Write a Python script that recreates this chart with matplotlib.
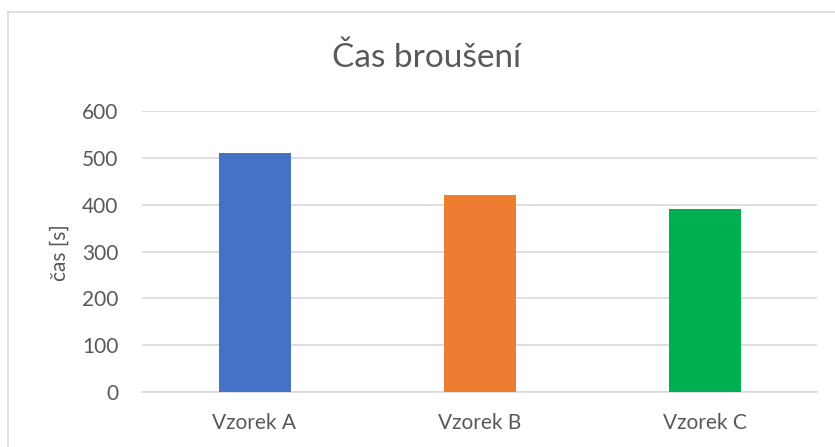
import matplotlib.pyplot as plt
from matplotlib.lines import Line2D

plt.rcParams['font.family'] = ['Lato', 'DejaVu Sans']

# grinding time per sample
samples = ["Vzorek A", "Vzorek B", "Vzorek C"]
times = [510, 420, 390]
bar_colors = ["#4472C4", "#ED7D31", "#00B050"]
yticks = [0, 100, 200, 300, 400, 500, 600]

TEXT = "#595959"
GRID = "#D9D9D9"

W, H = 835, 447
fig = plt.figure(figsize=(W / 100, H / 100), dpi=100)
ax = fig.add_axes([142 / W, 1 - 392 / H, 675 / W, 281 / H])

x = range(len(samples))
ax.bar(x, times, width=0.32, color=bar_colors, zorder=3)

ax.set_xlim(-0.5, len(samples) - 0.5)
ax.set_ylim(0, 600)
ax.set_yticks(yticks)
ax.set_xticks(list(x))
ax.set_xticklabels(samples)
ax.tick_params(axis="both", length=0, labelsize=15, colors=TEXT)
ax.tick_params(axis="y", pad=17)
ax.tick_params(axis="x", pad=15)
ax.grid(axis="y", color=GRID, lw=1.2, zorder=0)
for side in ["top", "right", "left"]:
    ax.spines[side].set_visible(False)
ax.spines["bottom"].set_color(GRID)
ax.spines["bottom"].set_linewidth(1.2)

# axis title and chart title placed in figure pixels
fig.text(60 / W, 1 - 253 / H, "čas [s]", fontsize=15, color=TEXT,
         rotation=90, ha="center", va="center")
fig.text(427 / W, 1 - 58 / H, "Čas broušení", fontsize=24, color=TEXT,
         ha="center", va="center")

# chart frame (top and left edge visible)
fig.add_artist(Line2D([8 / W, 1], [1 - 12 / H, 1 - 12 / H], color=GRID, lw=1.2,
                      transform=fig.transFigure))
fig.add_artist(Line2D([8 / W, 8 / W], [0, 1 - 12 / H], color=GRID, lw=1.2,
                      transform=fig.transFigure))

fig.savefig("out.png", dpi=100)
